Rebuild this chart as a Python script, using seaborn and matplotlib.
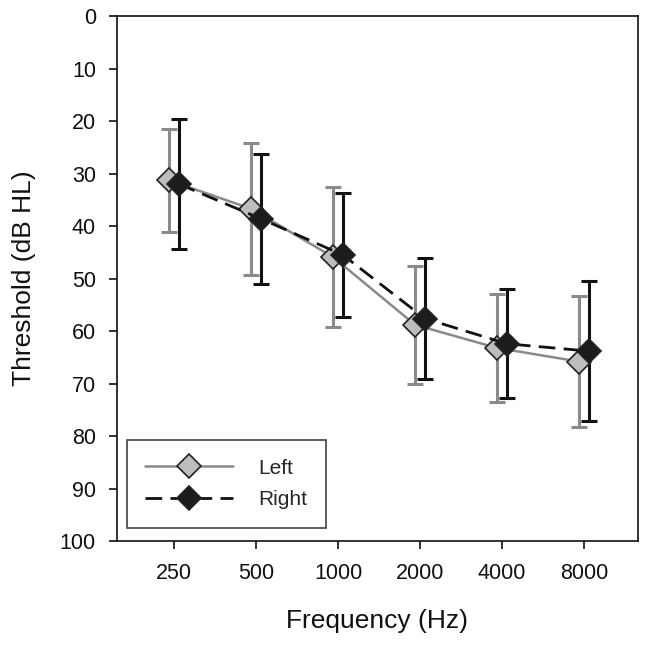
import numpy as np
import pandas as pd
import matplotlib
matplotlib.use("Agg")
import matplotlib.pyplot as plt
import seaborn as sns

# ── Data ──────────────────────────────────────────────
freqs = ["250", "500", "1000", "2000", "4000", "8000"]
left_mean = [31.3, 36.7, 45.9, 58.8, 63.2, 65.8]
left_err = [9.8, 12.6, 13.3, 11.2, 10.3, 12.4]
right_mean = [32.0, 38.6, 45.5, 57.6, 62.4, 63.8]
right_err = [12.4, 12.4, 11.8, 11.6, 10.4, 13.3]

sns.set_theme(style="ticks")
plt.rcParams["font.family"] = ["Liberation Sans", "DejaVu Sans"]

pos = np.arange(len(freqs))
df = pd.concat([
    pd.DataFrame({"x": pos - 0.06, "y": left_mean, "err": left_err, "ear": "Left"}),
    pd.DataFrame({"x": pos + 0.06, "y": right_mean, "err": right_err, "ear": "Right"}),
])

fig = plt.figure(figsize=(6.49, 6.45), dpi=100)
ax = fig.add_axes([0.180, 0.161, 0.803, 0.814])

styles = {
    "Left": dict(color="#8a8a8a", mfc="#bdbdbd", ls="-", lw=1.8),
    "Right": dict(color="#111111", mfc="#1c1c1c", ls=(0, (6, 3)), lw=2.0),
}

# error bars first, then lines + markers on top
for ear in ["Left", "Right"]:
    d = df[df.ear == ear]
    st = styles[ear]
    ax.errorbar(d.x, d.y, yerr=d.err, fmt="none", ecolor=st["color"],
                elinewidth=2.2, capsize=6, capthick=2.2, zorder=2)
for ear in ["Left", "Right"]:
    d = df[df.ear == ear]
    st = styles[ear]
    sns.lineplot(data=d, x="x", y="y", ax=ax, color=st["color"], lw=st["lw"],
                 linestyle=st["ls"], marker="D", markersize=12,
                 markerfacecolor=st["mfc"], markeredgecolor="#222222",
                 markeredgewidth=1.2, label=ear, zorder=3)

ax.set_xlim(-0.7, 5.66)
ax.set_ylim(100, 0)
ax.set_yticks(range(0, 101, 10))
ax.set_xticks(pos)
ax.set_xticklabels(freqs)
ax.tick_params(axis="both", labelsize=15.5, length=6, width=1.2, colors="#111111",
               direction="out")
ax.tick_params(axis="y", pad=9)
ax.tick_params(axis="x", pad=10)
for s in ax.spines.values():
    s.set_linewidth(1.2)
    s.set_color("#111111")

ax.set_xlabel("Frequency (Hz)", fontsize=19, labelpad=18, color="#111111")
ax.set_ylabel("Threshold (dB HL)", fontsize=19, labelpad=17, color="#111111")

leg = ax.legend(loc="lower left", bbox_to_anchor=(0.019, 0.025), fontsize=15,
                frameon=True, fancybox=False, edgecolor="#111111",
                handlelength=4.2, borderpad=0.9, labelspacing=0.6,
                handletextpad=1.2, borderaxespad=0)
leg.get_frame().set_linewidth(1.2)

fig.savefig("out.png", dpi=100)
